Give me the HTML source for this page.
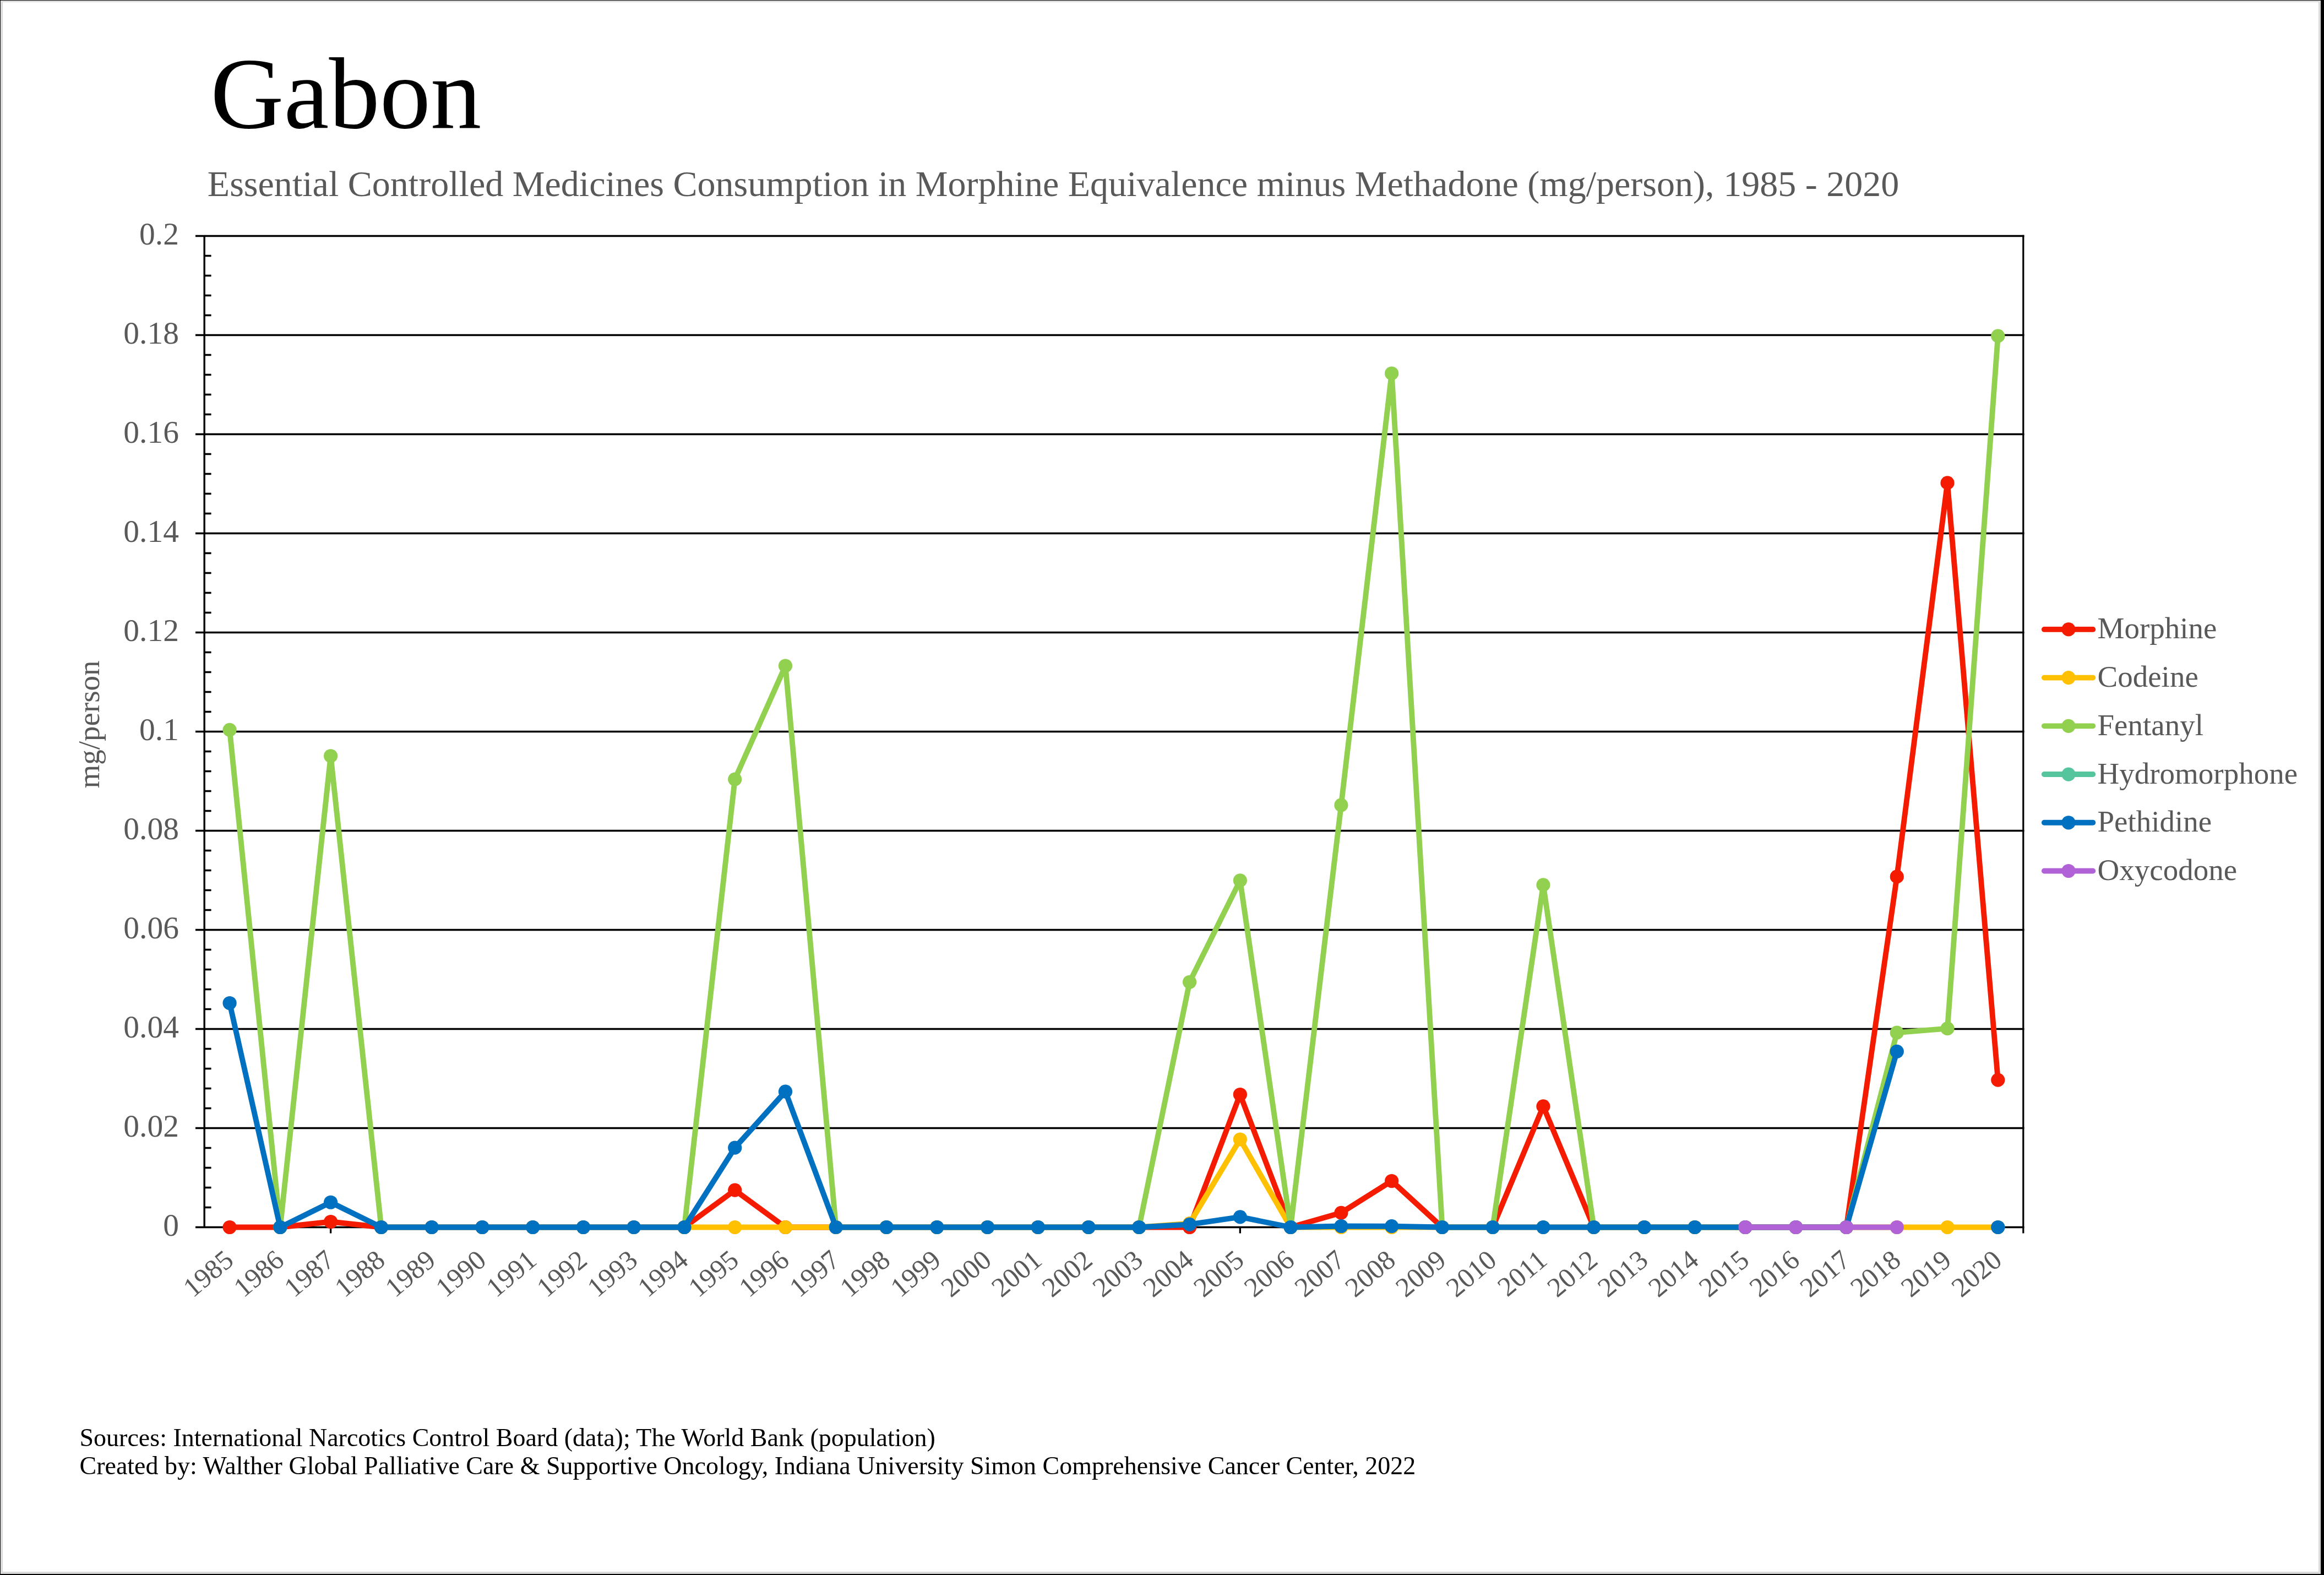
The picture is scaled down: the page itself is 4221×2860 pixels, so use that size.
<!DOCTYPE html>
<html><head><meta charset="utf-8"><title>Gabon</title>
<style>html,body{margin:0;padding:0;background:#000;}body{width:4221px;height:2860px;overflow:hidden;}svg{display:block;will-change:transform;}text{font-family:"Liberation Serif",serif;}</style>
</head><body>
<svg width="4221" height="2860" viewBox="0 0 4221 2860">
<rect x="0" y="0" width="4221" height="2860" fill="#000"/>
<rect x="1" y="1" width="4214" height="2857" fill="#e9e9e9"/>
<rect x="2" y="2" width="4212" height="2855" fill="#d9d9d9"/>
<rect x="5" y="4" width="4206" height="2850" fill="#ffffff"/>
<text x="382.3" y="231.7" font-size="184.5" fill="#000">Gabon</text>
<text x="376.8" y="355.9" font-size="66.06" fill="#595959">Essential Controlled Medicines Consumption in Morphine Equivalence minus Methadone (mg/person), 1985 - 2020</text>
<path d="M355 2228.50H3676.4M355 2048.50H3676.4M355 1868.50H3676.4M355 1688.50H3676.4M355 1508.50H3676.4M355 1328.50H3676.4M355 1148.50H3676.4M355 968.50H3676.4M355 788.50H3676.4M355 608.50H3676.4M355 428.50H3676.4" stroke="#000" stroke-width="3.30" fill="none"/>
<path d="M371 2192.50H383.6M371 2156.50H383.6M371 2120.50H383.6M371 2084.50H383.6M371 2012.50H383.6M371 1976.50H383.6M371 1940.50H383.6M371 1904.50H383.6M371 1832.50H383.6M371 1796.50H383.6M371 1760.50H383.6M371 1724.50H383.6M371 1652.50H383.6M371 1616.50H383.6M371 1580.50H383.6M371 1544.50H383.6M371 1472.50H383.6M371 1436.50H383.6M371 1400.50H383.6M371 1364.50H383.6M371 1292.50H383.6M371 1256.50H383.6M371 1220.50H383.6M371 1184.50H383.6M371 1112.50H383.6M371 1076.50H383.6M371 1040.50H383.6M371 1004.50H383.6M371 932.50H383.6M371 896.50H383.6M371 860.50H383.6M371 824.50H383.6M371 752.50H383.6M371 716.50H383.6M371 680.50H383.6M371 644.50H383.6M371 572.50H383.6M371 536.50H383.6M371 500.50H383.6M371 464.50H383.6" stroke="#000" stroke-width="3.30" fill="none"/>
<path d="M371.2 427.2V2230.1" stroke="#000" stroke-width="3.4" fill="none"/>
<path d="M3674.8 426.8V2239.6" stroke="#000" stroke-width="3.2" fill="none"/>
<path d="M417.10 2228.50V2239.6M508.86 2228.50V2239.6M600.63 2228.50V2239.6M692.39 2228.50V2239.6M784.15 2228.50V2239.6M875.92 2228.50V2239.6M967.68 2228.50V2239.6M1059.44 2228.50V2239.6M1151.20 2228.50V2239.6M1242.97 2228.50V2239.6M1334.73 2228.50V2239.6M1426.49 2228.50V2239.6M1518.26 2228.50V2239.6M1610.02 2228.50V2239.6M1701.78 2228.50V2239.6M1793.55 2228.50V2239.6M1885.31 2228.50V2239.6M1977.07 2228.50V2239.6M2068.83 2228.50V2239.6M2160.60 2228.50V2239.6M2252.36 2228.50V2239.6M2344.12 2228.50V2239.6M2435.89 2228.50V2239.6M2527.65 2228.50V2239.6M2619.41 2228.50V2239.6M2711.18 2228.50V2239.6M2802.94 2228.50V2239.6M2894.70 2228.50V2239.6M2986.46 2228.50V2239.6M3078.23 2228.50V2239.6M3169.99 2228.50V2239.6M3261.75 2228.50V2239.6M3353.52 2228.50V2239.6M3445.28 2228.50V2239.6M3537.04 2228.50V2239.6M3628.81 2228.50V2239.6" stroke="#000" stroke-width="3.3" fill="none"/>
<text x="324.9" y="2244.1" font-size="57.5" fill="#595959" text-anchor="end">0</text>
<text x="324.9" y="2064.1" font-size="57.5" fill="#595959" text-anchor="end">0.02</text>
<text x="324.9" y="1884.1" font-size="57.5" fill="#595959" text-anchor="end">0.04</text>
<text x="324.9" y="1704.1" font-size="57.5" fill="#595959" text-anchor="end">0.06</text>
<text x="324.9" y="1524.1" font-size="57.5" fill="#595959" text-anchor="end">0.08</text>
<text x="324.9" y="1344.1" font-size="57.5" fill="#595959" text-anchor="end">0.1</text>
<text x="324.9" y="1164.1" font-size="57.5" fill="#595959" text-anchor="end">0.12</text>
<text x="324.9" y="984.1" font-size="57.5" fill="#595959" text-anchor="end">0.14</text>
<text x="324.9" y="804.1" font-size="57.5" fill="#595959" text-anchor="end">0.16</text>
<text x="324.9" y="624.1" font-size="57.5" fill="#595959" text-anchor="end">0.18</text>
<text x="324.9" y="444.1" font-size="57.5" fill="#595959" text-anchor="end">0.2</text>
<text transform="translate(427.10 2293.10) rotate(-40)" x="0" y="0" font-size="50" fill="#595959" text-anchor="end">1985</text>
<text transform="translate(518.86 2293.10) rotate(-40)" x="0" y="0" font-size="50" fill="#595959" text-anchor="end">1986</text>
<text transform="translate(610.63 2293.10) rotate(-40)" x="0" y="0" font-size="50" fill="#595959" text-anchor="end">1987</text>
<text transform="translate(702.39 2293.10) rotate(-40)" x="0" y="0" font-size="50" fill="#595959" text-anchor="end">1988</text>
<text transform="translate(794.15 2293.10) rotate(-40)" x="0" y="0" font-size="50" fill="#595959" text-anchor="end">1989</text>
<text transform="translate(885.92 2293.10) rotate(-40)" x="0" y="0" font-size="50" fill="#595959" text-anchor="end">1990</text>
<text transform="translate(977.68 2293.10) rotate(-40)" x="0" y="0" font-size="50" fill="#595959" text-anchor="end">1991</text>
<text transform="translate(1069.44 2293.10) rotate(-40)" x="0" y="0" font-size="50" fill="#595959" text-anchor="end">1992</text>
<text transform="translate(1161.20 2293.10) rotate(-40)" x="0" y="0" font-size="50" fill="#595959" text-anchor="end">1993</text>
<text transform="translate(1252.97 2293.10) rotate(-40)" x="0" y="0" font-size="50" fill="#595959" text-anchor="end">1994</text>
<text transform="translate(1344.73 2293.10) rotate(-40)" x="0" y="0" font-size="50" fill="#595959" text-anchor="end">1995</text>
<text transform="translate(1436.49 2293.10) rotate(-40)" x="0" y="0" font-size="50" fill="#595959" text-anchor="end">1996</text>
<text transform="translate(1528.26 2293.10) rotate(-40)" x="0" y="0" font-size="50" fill="#595959" text-anchor="end">1997</text>
<text transform="translate(1620.02 2293.10) rotate(-40)" x="0" y="0" font-size="50" fill="#595959" text-anchor="end">1998</text>
<text transform="translate(1711.78 2293.10) rotate(-40)" x="0" y="0" font-size="50" fill="#595959" text-anchor="end">1999</text>
<text transform="translate(1803.55 2293.10) rotate(-40)" x="0" y="0" font-size="50" fill="#595959" text-anchor="end">2000</text>
<text transform="translate(1895.31 2293.10) rotate(-40)" x="0" y="0" font-size="50" fill="#595959" text-anchor="end">2001</text>
<text transform="translate(1987.07 2293.10) rotate(-40)" x="0" y="0" font-size="50" fill="#595959" text-anchor="end">2002</text>
<text transform="translate(2078.83 2293.10) rotate(-40)" x="0" y="0" font-size="50" fill="#595959" text-anchor="end">2003</text>
<text transform="translate(2170.60 2293.10) rotate(-40)" x="0" y="0" font-size="50" fill="#595959" text-anchor="end">2004</text>
<text transform="translate(2262.36 2293.10) rotate(-40)" x="0" y="0" font-size="50" fill="#595959" text-anchor="end">2005</text>
<text transform="translate(2354.12 2293.10) rotate(-40)" x="0" y="0" font-size="50" fill="#595959" text-anchor="end">2006</text>
<text transform="translate(2445.89 2293.10) rotate(-40)" x="0" y="0" font-size="50" fill="#595959" text-anchor="end">2007</text>
<text transform="translate(2537.65 2293.10) rotate(-40)" x="0" y="0" font-size="50" fill="#595959" text-anchor="end">2008</text>
<text transform="translate(2629.41 2293.10) rotate(-40)" x="0" y="0" font-size="50" fill="#595959" text-anchor="end">2009</text>
<text transform="translate(2721.18 2293.10) rotate(-40)" x="0" y="0" font-size="50" fill="#595959" text-anchor="end">2010</text>
<text transform="translate(2812.94 2293.10) rotate(-40)" x="0" y="0" font-size="50" fill="#595959" text-anchor="end">2011</text>
<text transform="translate(2904.70 2293.10) rotate(-40)" x="0" y="0" font-size="50" fill="#595959" text-anchor="end">2012</text>
<text transform="translate(2996.46 2293.10) rotate(-40)" x="0" y="0" font-size="50" fill="#595959" text-anchor="end">2013</text>
<text transform="translate(3088.23 2293.10) rotate(-40)" x="0" y="0" font-size="50" fill="#595959" text-anchor="end">2014</text>
<text transform="translate(3179.99 2293.10) rotate(-40)" x="0" y="0" font-size="50" fill="#595959" text-anchor="end">2015</text>
<text transform="translate(3271.75 2293.10) rotate(-40)" x="0" y="0" font-size="50" fill="#595959" text-anchor="end">2016</text>
<text transform="translate(3363.52 2293.10) rotate(-40)" x="0" y="0" font-size="50" fill="#595959" text-anchor="end">2017</text>
<text transform="translate(3455.28 2293.10) rotate(-40)" x="0" y="0" font-size="50" fill="#595959" text-anchor="end">2018</text>
<text transform="translate(3547.04 2293.10) rotate(-40)" x="0" y="0" font-size="50" fill="#595959" text-anchor="end">2019</text>
<text transform="translate(3638.81 2293.10) rotate(-40)" x="0" y="0" font-size="50" fill="#595959" text-anchor="end">2020</text>
<text transform="translate(179.8 1315.5) rotate(-90)" x="0" y="0" font-size="55" fill="#595959" text-anchor="middle">mg/person</text>
<path d="M417.10 2228.50L508.86 2228.50L600.63 2218.51L692.39 2228.50L784.15 2228.50L875.92 2228.50L967.68 2228.50L1059.44 2228.50L1151.20 2228.50L1242.97 2228.50L1334.73 2161.18L1426.49 2228.50L1518.26 2228.50L1610.02 2228.50L1701.78 2228.50L1793.55 2228.50L1885.31 2228.50L1977.07 2228.50L2068.83 2228.50L2160.60 2228.50L2252.36 1987.48L2344.12 2228.50L2435.89 2202.31L2527.65 2144.53L2619.41 2228.50L2711.18 2228.50L2802.94 2008.90L2894.70 2228.50L2986.46 2228.50L3078.23 2228.50L3169.99 2228.50L3261.75 2228.50L3353.52 2228.50L3445.28 1591.93L3537.04 876.88L3628.81 1961.11" stroke="#F41B00" stroke-width="9.90" fill="none" stroke-linejoin="round" stroke-linecap="round"/>
<g fill="#F41B00"><circle cx="417.10" cy="2228.50" r="12.60"/><circle cx="508.86" cy="2228.50" r="12.60"/><circle cx="600.63" cy="2218.51" r="12.60"/><circle cx="692.39" cy="2228.50" r="12.60"/><circle cx="784.15" cy="2228.50" r="12.60"/><circle cx="875.92" cy="2228.50" r="12.60"/><circle cx="967.68" cy="2228.50" r="12.60"/><circle cx="1059.44" cy="2228.50" r="12.60"/><circle cx="1151.20" cy="2228.50" r="12.60"/><circle cx="1242.97" cy="2228.50" r="12.60"/><circle cx="1334.73" cy="2161.18" r="12.60"/><circle cx="1426.49" cy="2228.50" r="12.60"/><circle cx="1518.26" cy="2228.50" r="12.60"/><circle cx="1610.02" cy="2228.50" r="12.60"/><circle cx="1701.78" cy="2228.50" r="12.60"/><circle cx="1793.55" cy="2228.50" r="12.60"/><circle cx="1885.31" cy="2228.50" r="12.60"/><circle cx="1977.07" cy="2228.50" r="12.60"/><circle cx="2068.83" cy="2228.50" r="12.60"/><circle cx="2160.60" cy="2228.50" r="12.60"/><circle cx="2252.36" cy="1987.48" r="12.60"/><circle cx="2344.12" cy="2228.50" r="12.60"/><circle cx="2435.89" cy="2202.31" r="12.60"/><circle cx="2527.65" cy="2144.53" r="12.60"/><circle cx="2619.41" cy="2228.50" r="12.60"/><circle cx="2711.18" cy="2228.50" r="12.60"/><circle cx="2802.94" cy="2008.90" r="12.60"/><circle cx="2894.70" cy="2228.50" r="12.60"/><circle cx="2986.46" cy="2228.50" r="12.60"/><circle cx="3078.23" cy="2228.50" r="12.60"/><circle cx="3169.99" cy="2228.50" r="12.60"/><circle cx="3261.75" cy="2228.50" r="12.60"/><circle cx="3353.52" cy="2228.50" r="12.60"/><circle cx="3445.28" cy="1591.93" r="12.60"/><circle cx="3537.04" cy="876.88" r="12.60"/><circle cx="3628.81" cy="1961.11" r="12.60"/></g>
<path d="M1242.97 2228.50L1334.73 2228.50L1426.49 2228.50L1518.26 2228.50L1610.02 2228.50L1701.78 2228.50L1793.55 2228.50L1885.31 2228.50L1977.07 2228.50L2068.83 2228.50L2160.60 2221.66L2252.36 2069.02L2344.12 2228.50L2435.89 2228.50L2527.65 2228.50L2619.41 2228.50L2711.18 2228.50L2802.94 2228.50L2894.70 2228.50L2986.46 2228.50L3078.23 2228.50L3169.99 2228.50L3261.75 2228.50L3353.52 2228.50L3445.28 2228.50L3537.04 2228.50L3628.81 2228.50" stroke="#FFC000" stroke-width="9.90" fill="none" stroke-linejoin="round" stroke-linecap="round"/>
<g fill="#FFC000"><circle cx="1242.97" cy="2228.50" r="12.60"/><circle cx="1334.73" cy="2228.50" r="12.60"/><circle cx="1426.49" cy="2228.50" r="12.60"/><circle cx="1518.26" cy="2228.50" r="12.60"/><circle cx="1610.02" cy="2228.50" r="12.60"/><circle cx="1701.78" cy="2228.50" r="12.60"/><circle cx="1793.55" cy="2228.50" r="12.60"/><circle cx="1885.31" cy="2228.50" r="12.60"/><circle cx="1977.07" cy="2228.50" r="12.60"/><circle cx="2068.83" cy="2228.50" r="12.60"/><circle cx="2160.60" cy="2221.66" r="12.60"/><circle cx="2252.36" cy="2069.02" r="12.60"/><circle cx="2344.12" cy="2228.50" r="12.60"/><circle cx="2435.89" cy="2228.50" r="12.60"/><circle cx="2527.65" cy="2228.50" r="12.60"/><circle cx="2619.41" cy="2228.50" r="12.60"/><circle cx="2711.18" cy="2228.50" r="12.60"/><circle cx="2802.94" cy="2228.50" r="12.60"/><circle cx="2894.70" cy="2228.50" r="12.60"/><circle cx="2986.46" cy="2228.50" r="12.60"/><circle cx="3078.23" cy="2228.50" r="12.60"/><circle cx="3169.99" cy="2228.50" r="12.60"/><circle cx="3261.75" cy="2228.50" r="12.60"/><circle cx="3353.52" cy="2228.50" r="12.60"/><circle cx="3445.28" cy="2228.50" r="12.60"/><circle cx="3537.04" cy="2228.50" r="12.60"/><circle cx="3628.81" cy="2228.50" r="12.60"/></g>
<path d="M417.10 1325.44L508.86 2228.50L600.63 1372.78L692.39 2228.50L784.15 2228.50L875.92 2228.50L967.68 2228.50L1059.44 2228.50L1151.20 2228.50L1242.97 2228.50L1334.73 1415.08L1426.49 1208.98L1518.26 2228.50L1610.02 2228.50L1701.78 2228.50L1793.55 2228.50L1885.31 2228.50L1977.07 2228.50L2068.83 2228.50L2160.60 1783.27L2252.36 1598.86L2344.12 2228.50L2435.89 1461.97L2527.65 677.98L2619.41 2228.50L2711.18 2228.50L2802.94 1606.87L2894.70 2228.50L2986.46 2228.50L3078.23 2228.50L3169.99 2228.50L3261.75 2228.50L3353.52 2228.50L3445.28 1875.16L3537.04 1867.69L3628.81 610.21" stroke="#92D050" stroke-width="9.90" fill="none" stroke-linejoin="round" stroke-linecap="round"/>
<g fill="#92D050"><circle cx="417.10" cy="1325.44" r="12.60"/><circle cx="508.86" cy="2228.50" r="12.60"/><circle cx="600.63" cy="1372.78" r="12.60"/><circle cx="692.39" cy="2228.50" r="12.60"/><circle cx="784.15" cy="2228.50" r="12.60"/><circle cx="875.92" cy="2228.50" r="12.60"/><circle cx="967.68" cy="2228.50" r="12.60"/><circle cx="1059.44" cy="2228.50" r="12.60"/><circle cx="1151.20" cy="2228.50" r="12.60"/><circle cx="1242.97" cy="2228.50" r="12.60"/><circle cx="1334.73" cy="1415.08" r="12.60"/><circle cx="1426.49" cy="1208.98" r="12.60"/><circle cx="1518.26" cy="2228.50" r="12.60"/><circle cx="1610.02" cy="2228.50" r="12.60"/><circle cx="1701.78" cy="2228.50" r="12.60"/><circle cx="1793.55" cy="2228.50" r="12.60"/><circle cx="1885.31" cy="2228.50" r="12.60"/><circle cx="1977.07" cy="2228.50" r="12.60"/><circle cx="2068.83" cy="2228.50" r="12.60"/><circle cx="2160.60" cy="1783.27" r="12.60"/><circle cx="2252.36" cy="1598.86" r="12.60"/><circle cx="2344.12" cy="2228.50" r="12.60"/><circle cx="2435.89" cy="1461.97" r="12.60"/><circle cx="2527.65" cy="677.98" r="12.60"/><circle cx="2619.41" cy="2228.50" r="12.60"/><circle cx="2711.18" cy="2228.50" r="12.60"/><circle cx="2802.94" cy="1606.87" r="12.60"/><circle cx="2894.70" cy="2228.50" r="12.60"/><circle cx="2986.46" cy="2228.50" r="12.60"/><circle cx="3078.23" cy="2228.50" r="12.60"/><circle cx="3169.99" cy="2228.50" r="12.60"/><circle cx="3261.75" cy="2228.50" r="12.60"/><circle cx="3353.52" cy="2228.50" r="12.60"/><circle cx="3445.28" cy="1875.16" r="12.60"/><circle cx="3537.04" cy="1867.69" r="12.60"/><circle cx="3628.81" cy="610.21" r="12.60"/></g>
<path d="M417.10 1821.52L508.86 2228.50L600.63 2183.23L692.39 2228.50L784.15 2228.50L875.92 2228.50L967.68 2228.50L1059.44 2228.50L1151.20 2228.50L1242.97 2228.50L1334.73 2084.14L1426.49 1982.17L1518.26 2228.50L1610.02 2228.50L1701.78 2228.50L1793.55 2228.50L1885.31 2228.50L1977.07 2228.50L2068.83 2228.50L2160.60 2223.46L2252.36 2209.96L2344.12 2228.50L2435.89 2226.52L2527.65 2226.70L2619.41 2228.50L2711.18 2228.50L2802.94 2228.50L2894.70 2228.50L2986.46 2228.50L3078.23 2228.50L3169.99 2228.50L3261.75 2228.50L3353.52 2228.50L3445.28 1909.36" stroke="#0070C0" stroke-width="9.90" fill="none" stroke-linejoin="round" stroke-linecap="round"/>
<g fill="#0070C0"><circle cx="417.10" cy="1821.52" r="12.60"/><circle cx="508.86" cy="2228.50" r="12.60"/><circle cx="600.63" cy="2183.23" r="12.60"/><circle cx="692.39" cy="2228.50" r="12.60"/><circle cx="784.15" cy="2228.50" r="12.60"/><circle cx="875.92" cy="2228.50" r="12.60"/><circle cx="967.68" cy="2228.50" r="12.60"/><circle cx="1059.44" cy="2228.50" r="12.60"/><circle cx="1151.20" cy="2228.50" r="12.60"/><circle cx="1242.97" cy="2228.50" r="12.60"/><circle cx="1334.73" cy="2084.14" r="12.60"/><circle cx="1426.49" cy="1982.17" r="12.60"/><circle cx="1518.26" cy="2228.50" r="12.60"/><circle cx="1610.02" cy="2228.50" r="12.60"/><circle cx="1701.78" cy="2228.50" r="12.60"/><circle cx="1793.55" cy="2228.50" r="12.60"/><circle cx="1885.31" cy="2228.50" r="12.60"/><circle cx="1977.07" cy="2228.50" r="12.60"/><circle cx="2068.83" cy="2228.50" r="12.60"/><circle cx="2160.60" cy="2223.46" r="12.60"/><circle cx="2252.36" cy="2209.96" r="12.60"/><circle cx="2344.12" cy="2228.50" r="12.60"/><circle cx="2435.89" cy="2226.52" r="12.60"/><circle cx="2527.65" cy="2226.70" r="12.60"/><circle cx="2619.41" cy="2228.50" r="12.60"/><circle cx="2711.18" cy="2228.50" r="12.60"/><circle cx="2802.94" cy="2228.50" r="12.60"/><circle cx="2894.70" cy="2228.50" r="12.60"/><circle cx="2986.46" cy="2228.50" r="12.60"/><circle cx="3078.23" cy="2228.50" r="12.60"/><circle cx="3169.99" cy="2228.50" r="12.60"/><circle cx="3261.75" cy="2228.50" r="12.60"/><circle cx="3353.52" cy="2228.50" r="12.60"/><circle cx="3445.28" cy="1909.36" r="12.60"/><circle cx="3628.81" cy="2228.50" r="12.60"/></g>
<path d="M3169.99 2228.50L3261.75 2228.50L3353.52 2228.50L3445.28 2228.50" stroke="#B062D6" stroke-width="9.90" fill="none" stroke-linejoin="round" stroke-linecap="round"/>
<g fill="#B062D6"><circle cx="3169.99" cy="2228.50" r="12.60"/><circle cx="3261.75" cy="2228.50" r="12.60"/><circle cx="3353.52" cy="2228.50" r="12.60"/><circle cx="3445.28" cy="2228.50" r="12.60"/></g>
<path d="M3712.9 1142.90H3801.3" stroke="#F41B00" stroke-width="9.90" stroke-linecap="round"/>
<circle cx="3757.0" cy="1142.90" r="12.60" fill="#F41B00"/>
<text x="3809.5" y="1159.40" font-size="55" fill="#595959">Morphine</text>
<path d="M3712.9 1230.62H3801.3" stroke="#FFC000" stroke-width="9.90" stroke-linecap="round"/>
<circle cx="3757.0" cy="1230.62" r="12.60" fill="#FFC000"/>
<text x="3809.5" y="1247.12" font-size="55" fill="#595959">Codeine</text>
<path d="M3712.9 1318.34H3801.3" stroke="#92D050" stroke-width="9.90" stroke-linecap="round"/>
<circle cx="3757.0" cy="1318.34" r="12.60" fill="#92D050"/>
<text x="3809.5" y="1334.84" font-size="55" fill="#595959">Fentanyl</text>
<path d="M3712.9 1406.06H3801.3" stroke="#55C59E" stroke-width="9.90" stroke-linecap="round"/>
<circle cx="3757.0" cy="1406.06" r="12.60" fill="#55C59E"/>
<text x="3809.5" y="1422.56" font-size="55" fill="#595959">Hydromorphone</text>
<path d="M3712.9 1493.78H3801.3" stroke="#0070C0" stroke-width="9.90" stroke-linecap="round"/>
<circle cx="3757.0" cy="1493.78" r="12.60" fill="#0070C0"/>
<text x="3809.5" y="1510.28" font-size="55" fill="#595959">Pethidine</text>
<path d="M3712.9 1581.50H3801.3" stroke="#B062D6" stroke-width="9.90" stroke-linecap="round"/>
<circle cx="3757.0" cy="1581.50" r="12.60" fill="#B062D6"/>
<text x="3809.5" y="1598.00" font-size="55" fill="#595959">Oxycodone</text>
<text x="144.5" y="2626.3" font-size="46" fill="#000">Sources: International Narcotics Control Board (data); The World Bank (population)</text>
<text x="144.5" y="2676.8" font-size="46" fill="#000">Created by: Walther Global Palliative Care &amp; Supportive Oncology, Indiana University Simon Comprehensive Cancer Center, 2022</text>
</svg></body></html>
